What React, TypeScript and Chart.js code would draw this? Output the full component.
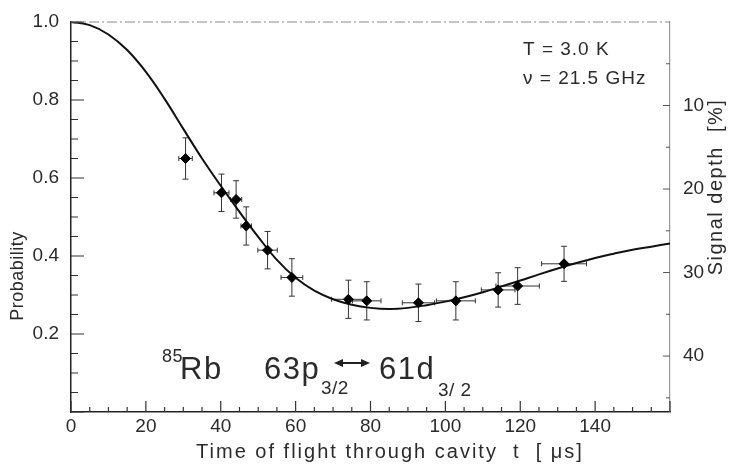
import React, { useEffect, useRef } from "react";
import { Chart, registerables } from "chart.js";

Chart.register(...registerables);

// Theoretical curve (time in µs, probability)
const curveT = [0, 5, 10, 15, 20, 25, 30, 35, 40, 45, 50, 55, 60, 65, 70, 75, 80, 85, 90, 95, 100, 105, 110, 115, 120, 125, 130, 135, 140, 145, 150, 155, 160];
const curveP = [1.0, 0.992, 0.968, 0.928, 0.872, 0.803, 0.726, 0.65, 0.58, 0.513, 0.449, 0.39, 0.344, 0.311, 0.289, 0.275, 0.267, 0.264, 0.267, 0.274, 0.283, 0.294, 0.307, 0.322, 0.337, 0.353, 0.368, 0.382, 0.395, 0.406, 0.416, 0.424, 0.432];

// Measured points
const dataT = [30.6, 40.2, 44.1, 46.8, 52.5, 59.0, 74.1, 79.0, 92.8, 102.8, 114.1, 119.3, 131.7];
const dataP = [0.65, 0.562, 0.545, 0.477, 0.415, 0.345, 0.289, 0.285, 0.28, 0.285, 0.313, 0.323, 0.38];
const errT = [1.8, 2.0, 1.5, 1.4, 2.6, 2.9, 4.5, 3.8, 4.3, 5.2, 4.5, 5.8, 6.0];
const errP = [0.053, 0.048, 0.048, 0.049, 0.048, 0.048, 0.049, 0.049, 0.048, 0.049, 0.044, 0.047, 0.045];

const xTicks = [0, 20, 40, 60, 80, 100, 120, 140];
const yTicks = [0.2, 0.4, 0.6, 0.8, 1.0];
const depthTicks = [10, 20, 30, 40];

const FONT = "'Liberation Sans', Arial, sans-serif";
const INK = "#2b2b2b";

const decorPlugin = {
  id: "decor",
  beforeDatasetsDraw(chart: any) {
    const { ctx } = chart;
    const xs = chart.scales.x;
    const ys = chart.scales.y;
    ctx.save();
    ctx.strokeStyle = "#333";
    ctx.lineWidth = 1;
    for (let i = 0; i < dataT.length; i++) {
      const cx = xs.getPixelForValue(dataT[i]);
      const cy = ys.getPixelForValue(dataP[i]);
      const y1 = ys.getPixelForValue(dataP[i] + errP[i]);
      const y2 = ys.getPixelForValue(dataP[i] - errP[i]);
      const x1 = xs.getPixelForValue(dataT[i] - errT[i]);
      const x2 = xs.getPixelForValue(dataT[i] + errT[i]);
      ctx.beginPath();
      ctx.moveTo(cx, y1); ctx.lineTo(cx, y2);
      ctx.moveTo(cx - 3, y1); ctx.lineTo(cx + 3, y1);
      ctx.moveTo(cx - 3, y2); ctx.lineTo(cx + 3, y2);
      ctx.moveTo(x1, cy); ctx.lineTo(x2, cy);
      ctx.moveTo(x1, cy - 2.5); ctx.lineTo(x1, cy + 2.5);
      ctx.moveTo(x2, cy - 2.5); ctx.lineTo(x2, cy + 2.5);
      ctx.stroke();
    }
    ctx.restore();
  },
  afterDraw(chart: any) {
    const { ctx, chartArea } = chart;
    const xs = chart.scales.x;
    const ys = chart.scales.y;
    const yr = chart.scales.y2;
    const { left, right, top, bottom } = chartArea;
    ctx.save();
    // top border (dash-dot, faded)
    ctx.strokeStyle = "#8a8a8a";
    ctx.lineWidth = 1.2;
    ctx.setLineDash([10, 3, 2, 3]);
    ctx.beginPath();
    ctx.moveTo(left, top); ctx.lineTo(right, top);
    ctx.stroke();
    ctx.setLineDash([]);

    // tick marks (inside)
    ctx.strokeStyle = "#333";
    ctx.lineWidth = 1.2;
    ctx.beginPath();
    for (let v = 0; v <= 160; v += 5) {
      const px = xs.getPixelForValue(v);
      const len = v % 20 === 0 ? 11 : 5;
      ctx.moveTo(px, bottom); ctx.lineTo(px, bottom - len);
    }
    for (let k = 0; k <= 20; k++) {
      const v = k * 0.05;
      const py = ys.getPixelForValue(v);
      const len = k % 4 === 0 ? 13 : 7;
      ctx.moveTo(left, py); ctx.lineTo(left + len, py);
    }
    ctx.stroke();
    ctx.strokeStyle = "#555";
    ctx.lineWidth = 1;
    ctx.beginPath();
    for (let v = 5; v <= 45; v += 5) {
      const py = yr.getPixelForValue(v);
      const len = v % 10 === 0 ? 7 : 4;
      ctx.moveTo(right, py); ctx.lineTo(right - len, py);
    }
    ctx.stroke();

    ctx.fillStyle = INK;
    // axis titles
    ctx.textAlign = "center";
    ctx.textBaseline = "middle";
    (ctx as any).letterSpacing = "2px";
    ctx.font = `20px ${FONT}`;
    ctx.fillText("Time of flight through cavity  t  [ μs]", 390, 452);

    ctx.save();
    ctx.translate(18, 276);
    ctx.rotate(-Math.PI / 2);
    (ctx as any).letterSpacing = "0.5px";
    ctx.font = `18px ${FONT}`;
    ctx.fillText("Probability", 0, 0);
    ctx.restore();

    ctx.save();
    ctx.translate(716, 187);
    ctx.rotate(-Math.PI / 2);
    (ctx as any).letterSpacing = "1.5px";
    ctx.font = `20px ${FONT}`;
    ctx.fillText("Signal depth  [%]", 0, 0);
    ctx.restore();

    // conditions
    ctx.textAlign = "left";
    ctx.textBaseline = "alphabetic";
    (ctx as any).letterSpacing = "1px";
    ctx.font = `19px ${FONT}`;
    ctx.fillText("T = 3.0 K", 523, 55);
    ctx.fillText("ν = 21.5 GHz", 523, 84);

    // transition label
    (ctx as any).letterSpacing = "0.5px";
    ctx.font = `18px ${FONT}`;
    ctx.fillText("85", 162, 362);
    ctx.font = `31px ${FONT}`;
    (ctx as any).letterSpacing = "1.5px";
    ctx.fillText("Rb", 180, 379);
    ctx.fillText("63p", 264, 379);
    ctx.fillText("61d", 379, 379);
    ctx.font = `19px ${FONT}`;
    (ctx as any).letterSpacing = "0.5px";
    ctx.fillText("3/2", 321, 394);
    ctx.fillText("3/ 2", 438, 396);
    // double arrow
    ctx.strokeStyle = "#222";
    ctx.fillStyle = "#222";
    ctx.lineWidth = 2;
    const ay = 363, ax1 = 334, ax2 = 370;
    ctx.beginPath();
    ctx.moveTo(ax1 + 6, ay); ctx.lineTo(ax2 - 6, ay);
    ctx.stroke();
    ctx.beginPath();
    ctx.moveTo(ax1, ay); ctx.lineTo(ax1 + 9, ay - 4); ctx.lineTo(ax1 + 9, ay + 4); ctx.closePath();
    ctx.moveTo(ax2, ay); ctx.lineTo(ax2 - 9, ay - 4); ctx.lineTo(ax2 - 9, ay + 4); ctx.closePath();
    ctx.fill();
    ctx.restore();
  },
};

export default function App() {
  const canvasRef = useRef<HTMLCanvasElement | null>(null);

  useEffect(() => {
    const canvas = canvasRef.current;
    if (!canvas) return;
    const tickFont = { family: FONT, size: 19 };
    const chart = new Chart(canvas, {
      type: "scatter",
      data: {
        datasets: [
          {
            type: "line",
            data: curveT.map((t, i) => ({ x: t, y: curveP[i] })),
            borderColor: "#111",
            borderWidth: 2,
            pointRadius: 0,
            tension: 0.4,
            fill: false,
            order: 2,
          } as any,
          {
            type: "scatter",
            data: dataT.map((t, i) => ({ x: t, y: dataP[i] })),
            backgroundColor: "#000",
            borderColor: "#000",
            pointRadius: 5,
            pointStyle: "rectRot",
            order: 1,
          },
        ],
      },
      options: {
        responsive: false,
        animation: false,
        devicePixelRatio: 1,
        layout: { padding: { top: 22, left: 0, right: 0, bottom: 0 } },
        plugins: { legend: { display: false }, tooltip: { enabled: false } },
        scales: {
          x: {
            type: "linear",
            min: 0,
            max: 160,
            afterFit: (s: any) => { s.height = 55; },
            afterBuildTicks: (s: any) => { s.ticks = xTicks.map((v) => ({ value: v })); },
            ticks: { font: tickFont, color: INK, padding: -5, maxRotation: 0, callback: (v: any) => String(v) },
            grid: { display: false },
            border: { display: true, color: "#222", width: 1.5 },
          },
          y: {
            type: "linear",
            position: "left",
            min: 0,
            max: 1,
            afterFit: (s: any) => { s.width = 71; },
            afterBuildTicks: (s: any) => { s.ticks = yTicks.map((v) => ({ value: v })); },
            ticks: { font: tickFont, color: INK, padding: 4, callback: (v: any) => Number(v).toFixed(1) },
            grid: { display: false },
            border: { display: true, color: "#222", width: 1.5 },
          },
          y2: {
            type: "linear",
            position: "right",
            reverse: true,
            min: 0,
            max: 46.7,
            afterFit: (s: any) => { s.width = 59; },
            afterBuildTicks: (s: any) => { s.ticks = depthTicks.map((v) => ({ value: v })); },
            ticks: { font: tickFont, color: INK, padding: 5, callback: (v: any) => String(v) },
            grid: { display: false },
            border: { display: true, color: "#999", width: 1.2, dash: [1, 3] },
          },
        },
      } as any,
      plugins: [decorPlugin],
    });
    return () => chart.destroy();
  }, []);

  return (
    <div style={{ position: "fixed", left: 0, top: 0, width: 729, height: 467, background: "#fff" }}>
      <canvas ref={canvasRef} width={729} height={467} style={{ display: "block" }} />
    </div>
  );
}
